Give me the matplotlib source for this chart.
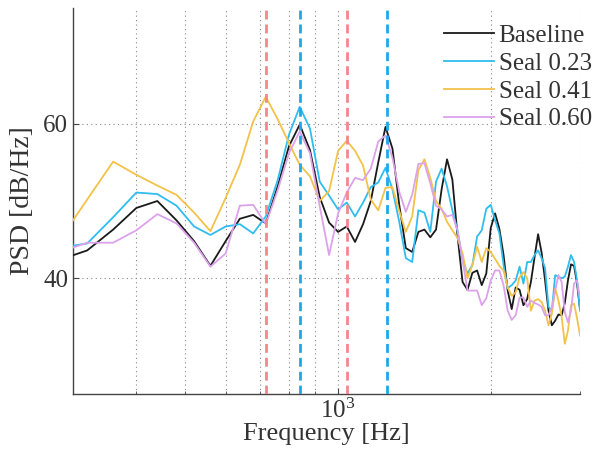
import numpy as np
import matplotlib
matplotlib.use("Agg")
import matplotlib.pyplot as plt
from matplotlib.ticker import FixedLocator, NullFormatter, LogFormatterMathtext

plt.rcParams['font.family'] = ['Liberation Serif', 'DejaVu Serif']
plt.rcParams['mathtext.fontset'] = 'stix'

freq = [280, 320, 360, 400, 440, 480, 520, 560, 600, 640, 680, 720, 760, 800, 840,
        880, 920, 960, 1000, 1040, 1080, 1120, 1160, 1200, 1240, 1280, 1320, 1360,
        1400, 1440, 1480, 1520, 1560, 1600, 1640, 1680, 1720, 1760, 1800, 1840, 1880,
        1920, 1960, 2000, 2040, 2080, 2120, 2160, 2200, 2240, 2280, 2320, 2360, 2400,
        2440, 2480, 2520, 2560, 2600, 2640, 2680, 2720, 2760, 2800, 2840, 2880, 2920,
        2960, 3000]

baseline = [42.3, 43.6, 46.3, 49.1, 50.0, 47.5, 44.8, 41.6, 44.8, 47.7, 48.2, 47.1, 51.9,
            57.1, 59.9, 56.6, 50.5, 47.2, 46.0, 46.7, 44.7, 47.0, 50.0, 55.0, 59.6, 56.8,
            49.5, 43.9, 43.4, 46.0, 46.3, 45.3, 46.3, 51.5, 55.4, 52.8, 45.5, 39.5, 38.5,
            40.7, 41.0, 39.1, 40.6, 46.5, 48.4, 46.4, 43.0, 38.4, 36.0, 38.8, 38.5, 36.5,
            37.3, 39.5, 42.7, 45.7, 43.3, 39.7, 35.8, 33.9, 34.5, 35.3, 35.2, 36.8, 39.7,
            41.8, 41.6, 39.3, 36.0]

seal_023 = [43.9, 44.5, 47.9, 51.1, 50.9, 49.4, 46.7, 45.6, 46.7, 47.0, 45.8, 48.0, 52.7,
            58.6, 62.2, 59.4, 52.5, 50.7, 48.9, 49.8, 48.0, 49.8, 51.8, 52.4, 54.3, 51.5,
            47.3, 42.6, 42.1, 48.8, 48.5, 46.0, 52.5, 54.2, 51.9, 48.8, 46.2, 42.3, 40.6,
            41.7, 45.4, 46.2, 49.0, 49.5, 47.5, 45.8, 41.7, 38.7, 39.1, 39.7, 41.5, 39.3,
            42.1, 42.1, 43.0, 43.6, 42.6, 41.3, 36.3, 35.8, 40.4, 40.2, 40.0, 40.2, 41.5,
            43.0, 42.1, 39.7, 35.8]

seal_041 = [44.6, 50.2, 55.1, 53.4, 52.0, 50.8, 48.5, 46.1, 50.4, 54.7, 60.3, 63.5, 60.6,
            57.5, 54.7, 53.2, 50.0, 51.3, 56.5, 57.8, 56.5, 54.6, 50.2, 48.8, 51.7, 51.8,
            48.7, 46.0, 48.0, 54.0, 55.4, 53.0, 50.0, 49.0, 47.3, 46.2, 45.2, 43.2, 40.0,
            41.7, 44.1, 42.1, 43.9, 43.4, 42.5, 41.6, 41.0, 38.8, 37.7, 38.2, 40.1, 40.8,
            40.0, 35.8, 37.1, 37.3, 36.9, 35.8, 33.9, 35.4, 38.7, 37.1, 35.0, 31.5, 33.2,
            36.5, 36.7, 34.8, 32.6]

seal_060 = [43.3, 44.6, 44.6, 46.2, 48.3, 47.1, 44.6, 41.5, 43.2, 49.4, 49.5, 47.0, 51.4,
            56.2, 59.0, 56.2, 49.3, 43.0, 48.4, 51.1, 53.0, 52.7, 54.2, 57.7, 58.5, 55.6,
            51.2, 48.6, 50.8, 54.8, 54.9, 52.3, 49.4, 48.9, 48.0, 48.2, 46.2, 42.3, 38.4,
            38.4, 38.4, 36.5, 37.4, 39.7, 41.0, 41.0, 39.1, 35.8, 34.6, 35.2, 37.5, 37.5,
            36.3, 37.1, 36.8, 36.6, 36.3, 35.2, 35.2, 36.2, 38.4, 40.4, 39.5, 35.6, 34.3,
            35.8, 39.3, 39.7, 37.4]

series_labels = ['Baseline', 'Seal 0.23', 'Seal 0.41', 'Seal 0.60']
series_colors = ['#1a1a1a', '#2fbdf0', '#f2c24a', '#dca2ea']

red_marks = [722, 1043]
blue_marks = [841, 1246]

fig = plt.figure(figsize=(5.93, 4.58), dpi=100)
ax = fig.add_axes([0.1231, 0.1397, 0.8550, 0.8428])

for vals, lab, col in zip([baseline, seal_023, seal_041, seal_060], series_labels, series_colors):
    ax.plot(freq, vals, color=col, lw=1.3, label=lab, zorder=3)

for f in red_marks:
    ax.axvline(f, color='#f4868c', lw=2.0, ls=(0, (3.2, 1.8)), zorder=4)
for f in blue_marks:
    ax.axvline(f, color='#1ea8ea', lw=2.0, ls=(0, (3.2, 1.8)), zorder=4)

ax.set_xscale('log')
ax.set_xlim(300, 3000)
ax.set_ylim(25, 75)

ax.xaxis.set_major_locator(FixedLocator([1000]))
ax.xaxis.set_major_formatter(LogFormatterMathtext())
ax.xaxis.set_minor_locator(FixedLocator([400, 500, 600, 700, 800, 900, 2000, 3000]))
ax.xaxis.set_minor_formatter(NullFormatter())
ax.set_yticks([40, 60])

ax.grid(True, which='both', axis='x', color='#888888', ls=(0, (1, 3)), lw=0.8)
ax.grid(True, which='major', axis='y', color='#888888', ls=(0, (1, 3)), lw=0.8)
ax.set_axisbelow(True)

for s in ['top', 'right']:
    ax.spines[s].set_visible(False)
for s in ['left', 'bottom']:
    ax.spines[s].set_color('#444444')
    ax.spines[s].set_linewidth(1.0)

ax.tick_params(which='both', direction='in', colors='#444444', labelsize=18, labelcolor='#333333')
ax.tick_params(which='major', length=4)
ax.tick_params(which='minor', length=2.5)

ax.set_xlabel('Frequency [Hz]', fontsize=19, color='#333333', labelpad=0)
ax.set_ylabel('PSD [dB/Hz]', fontsize=20, color='#333333', labelpad=6)

leg = ax.legend(loc='upper right', bbox_to_anchor=(0.998, 0.946), bbox_transform=fig.transFigure,
                frameon=False, fontsize=18, handlelength=2.0, handletextpad=0.2,
                labelspacing=0.21, borderpad=0, borderaxespad=0)
for t in leg.get_texts():
    t.set_color('#333333')

fig.savefig('out.png', dpi=100)
